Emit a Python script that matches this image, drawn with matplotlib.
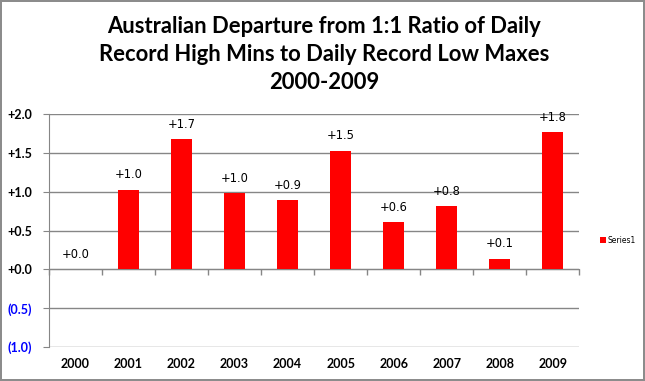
import numpy as np
import matplotlib.pyplot as plt
from matplotlib.ticker import FuncFormatter

years = ['2000', '2001', '2002', '2003', '2004', '2005', '2006', '2007', '2008', '2009']
values = [0.0, 1.03, 1.68, 0.98, 0.89, 1.53, 0.61, 0.815, 0.14, 1.77]
yticks = [-1.0, -0.5, 0.0, 0.5, 1.0, 1.5, 2.0]

fig = plt.figure(figsize=(6.45, 3.81), dpi=100)
fig.patch.set_edgecolor('#8c8c8c')
fig.patch.set_linewidth(1.5)
ax = fig.add_axes([0.076, 0.089, 0.822, 0.611])

x = np.arange(len(years))
bars = ax.bar(x, values, width=0.4, color='#ff0000', label='Series1', zorder=3)

for xi, v in zip(x, values):
    ax.annotate('{:+.1f}'.format(v), (xi, v), xytext=(0, 6), textcoords='offset points',
                ha='center', va='bottom', fontsize=8.3, family='DejaVu Sans')

ax.set_xlim(-0.5, len(years) - 0.5)
ax.set_ylim(-1.0, 2.0)
ax.set_yticks(yticks)
ax.yaxis.set_major_formatter(FuncFormatter(
    lambda v, p: '({:.1f})'.format(abs(v)) if v < 0 else '+{:.1f}'.format(v)))
for lab, v in zip(ax.get_yticklabels(), yticks):
    lab.set_color('#0000ff' if v < 0 else 'black')
    lab.set_fontweight('bold')
    lab.set_fontfamily('Lato')
    lab.set_fontsize(9)
ax.tick_params(axis='y', length=4, color='#868686', pad=8)
ax.grid(axis='y', color='#868686', linewidth=1, zorder=0)

# x axis sits at zero, ticks between categories
ax.spines['bottom'].set_position(('data', 0))
ax.set_xticks(x)
ax.set_xticks(np.arange(len(years) + 1) - 0.5, minor=True)
ax.tick_params(axis='x', which='major', length=0, labelbottom=False)
ax.tick_params(axis='x', which='minor', length=4, color='#868686', width=1)
for xi, yr in zip(x, years):
    ax.text(xi, -0.045, yr, transform=ax.get_xaxis_transform(), ha='center', va='top',
            fontsize=9, fontweight='bold', family='Lato')

for s in ['top', 'right']:
    ax.spines[s].set_visible(False)
for s in ['left', 'bottom']:
    ax.spines[s].set_color('#868686')

fig.text(0.502, 0.958, 'Australian Departure from 1:1 Ratio of Daily\nRecord High Mins to Daily Record Low Maxes\n2000-2009',
         ha='center', va='top', fontsize=15.8, fontweight='bold', family='Lato', linespacing=1.4)

fig.legend(handles=[bars], loc='center left', bbox_to_anchor=(0.92, 0.37), frameon=False,
           fontsize=5.5, handlelength=0.7, handleheight=0.7, handletextpad=0.3)

fig.savefig('out.png', dpi=100, edgecolor=fig.get_edgecolor())
